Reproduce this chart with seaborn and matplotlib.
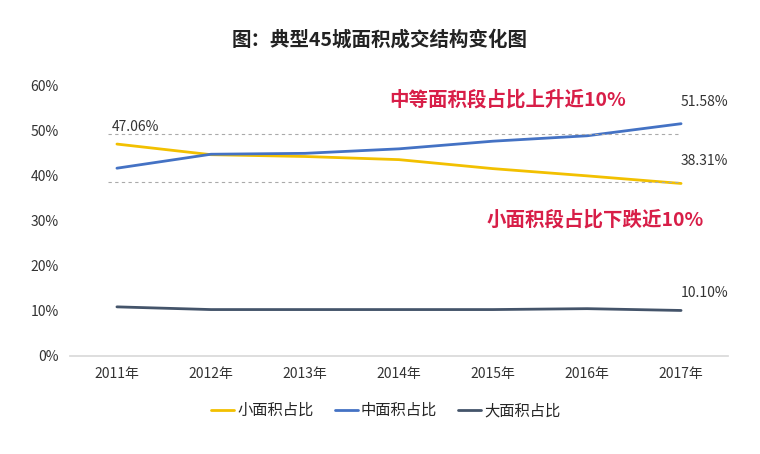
import matplotlib
matplotlib.use("Agg")
import matplotlib.pyplot as plt
import seaborn as sns
import pandas as pd

# data
years = ['2011年', '2012年', '2013年', '2014年', '2015年', '2016年', '2017年']
small = [47.06, 44.7, 44.3, 43.6, 41.6, 40.0, 38.31]
medium = [41.7, 44.8, 45.0, 46.0, 47.7, 48.9, 51.58]
large = [10.9, 10.3, 10.3, 10.3, 10.3, 10.5, 10.10]
series = ['小面积占比', '中面积占比', '大面积占比']
colors = ['#F2C000', '#4472C4', '#44546A']

sns.set_theme(style='white')
plt.rcParams['font.family'] = ['Noto Sans CJK SC', 'DejaVu Sans']

df = pd.DataFrame({'year': years * 3,
                   'value': small + medium + large,
                   'series': [s for s in series for _ in years]})
df['x'] = list(range(len(years))) * 3

fig = plt.figure(figsize=(7.6, 4.54), dpi=100)
ax = fig.add_axes([0.092, 0.216, 0.866, 0.595])
sns.lineplot(data=df, x='x', y='value', hue='series', palette=colors,
             linewidth=2, ax=ax, legend=True)

ax.set_xlim(-0.5, 6.5)
ax.set_ylim(0, 60)
ax.set_xticks(range(len(years)))
ax.set_xticklabels(years, fontsize=10, color='#333333')
ax.set_yticks(range(0, 61, 10))
ax.set_yticklabels([f'{v}%' for v in range(0, 61, 10)], fontsize=10, color='#333333')
ax.set_xlabel('')
ax.set_ylabel('')
ax.tick_params(length=0, pad=8)
for side in ['top', 'right', 'left']:
    ax.spines[side].set_visible(False)
ax.spines['bottom'].set_color('#d9d9d9')

# dashed guide lines
ax.hlines([49.4, 38.7], -0.1, 6, colors='#aaaaaa', linestyles=(0, (3, 3)), linewidth=0.8)

# value labels
ax.text(-0.05, 50.0, '47.06%', fontsize=10, color='#333333')
ax.text(6.0, 55.5, '51.58%', fontsize=10, color='#333333')
ax.text(6.0, 42.5, '38.31%', fontsize=10, color='#333333')
ax.text(6.0, 13.0, '10.10%', fontsize=10, color='#333333')

# annotations
ax.text(2.9, 55.6, '中等面积段占比上升近10%', fontsize=14, fontweight='bold', color='#D81E48')
ax.text(3.93, 29.0, '小面积段占比下跌近10%', fontsize=14, fontweight='bold', color='#D81E48')

fig.text(0.5, 0.9, '图：典型45城面积成交结构变化图', ha='center', fontsize=14,
         fontweight='bold', color='#222222')

handles, labels = ax.get_legend_handles_labels()
ax.legend(handles, labels, loc='upper center', bbox_to_anchor=(0.48, -0.12), ncol=3,
          frameon=False, fontsize=11, handlelength=1.5, handletextpad=0.2,
          columnspacing=1.4)

fig.savefig('out.png', dpi=100)
